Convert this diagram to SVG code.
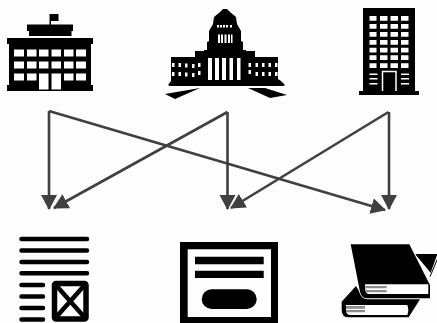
<svg xmlns="http://www.w3.org/2000/svg" width="437" height="323" viewBox="0 0 437 323">
<style>
.k{fill:#000}.w{fill:#fff}.g{fill:#8c8c8c}
.c{fill:none;stroke:#404040;stroke-width:2.600;marker-end:url(#a)}
.l{fill:none;stroke:#000;stroke-width:4.500;stroke-linecap:round}
</style>
<defs><marker id="a" markerUnits="userSpaceOnUse" markerWidth="17" markerHeight="17" refX="14" refY="8" orient="auto"><path d="M0 0L15 8L0 16Z" fill="#404040"/></marker></defs>
<rect width="437" height="323" fill="#fdfdfe"/>
<g id="connectors">
<path class="c" d="M49 111V209"/>
<path class="c" d="M49 111L385 210"/>
<path class="c" d="M227.500 112L54 208"/>
<path class="c" d="M227.500 112V209"/>
<path class="c" d="M388.500 112L231 208"/>
<path class="c" d="M389 112V209"/>
</g>
<g id="school">
<path class="k" d="M49.500 14H58.500V21H51V25H49.500Z"/>
<path class="k" d="M27 24.500H73V31H71.500V36H29V31H27Z"/>
<path class="k" d="M7 38H93V44H91V85H93V91H7V85H9V44H7Z"/>
<path class="w" d="M14 49.500h10v7h-10zM27 49.500h9.500v7h-9.500zM39 49.500h9.500v7h-9.500zM51.500 49.500h9.500v7h-9.500zM64 49.500h9.500v7h-9.500zM76 49.500h10v7h-10zM14 61.500h10v7h-10zM27 61.500h9.500v7h-9.500zM39 61.500h9.500v7h-9.500zM51.500 61.500h9.500v7h-9.500zM64 61.500h9.500v7h-9.500zM76 61.500h10v7h-10zM14 73.500h10v7h-10zM27 73.500h9.500v7h-9.500zM64 73.500h9.500v7h-9.500zM76 73.500h10v7h-10zM39 73.500h9.500v16h-9.500zM51.500 73.500h9.500v16h-9.500z"/>
</g>
<g id="parliament">
<path class="k" d="M223 9H227L230 12L236 17L237 24L241 31V41L243 42V50H246V51H255V57H278V79L281 81L285 85L283 86H170L168 85L171 81V57H195V51H204V50H207V42L209 41V31L213 24L214 17L220 12Z"/>
<path class="k" d="M165 94L200 88L175 99ZM248 88H265L287 95L270 98Z"/>
<path class="w" d="M208 58h4v22h-4zM215 58h4v22h-4zM222 58h4v22h-4zM229.500 58h3.500v22h-3.500zM237 58h3.500v22h-3.500zM218 34.500h2v8.500h-2zM221 34.500h2v8.500h-2zM224.500 34.500h2v8.500h-2zM228 34.500h2v8.500h-2zM231 34.500h1.500v8.500h-1.500zM217 25h2v2.500h-2zM220 25h2v2.500h-2zM223 25h2v2.500h-2zM226 25h2v2.500h-2zM230 25h2v2.500h-2z"/>
<path class="w" d="M172 63h2.500v4h-2.500zM178.500 63h2.500v4h-2.500zM185 63.500h2.500v4h-2.500zM192 64h2.500v4h-2.500zM198 63h2.500v4h-2.500zM172 72h2.500v4h-2.500zM178.500 72h2.500v4h-2.500zM185 72.500h2.500v4h-2.500zM192 73h2.500v4h-2.500zM198 71h2.500v4h-2.500zM248.500 63h2.500v4h-2.500zM255.500 63h2.500v4h-2.500zM262 63h2.500v4h-2.500zM268.500 63h2.500v4h-2.500zM275 63h2.500v4h-2.500zM248.500 70h2.500v4h-2.500zM255.500 72h2.500v4h-2.500zM262 72h2.500v4h-2.500zM268.500 72h2.500v4h-2.500zM275 72h2.500v4h-2.500z"/>
</g>
<g id="office">
<path class="k" d="M363 8H415V91H419V95H359V91H363Z"/>
<path class="w" d="M369.500 16h7v4.700h-7zM380 16h7.500v4.700h-7.500zM390.500 16h7.500v4.700h-7.500zM401 16h7.500v4.700h-7.500zM369.500 24h7v4.700h-7zM380 24h7.500v4.700h-7.500zM390.500 24h7.500v4.700h-7.500zM401 24h7.500v4.700h-7.500zM369.500 32h7v4.700h-7zM380 32h7.500v4.700h-7.500zM390.500 32h7.500v4.700h-7.500zM401 32h7.500v4.700h-7.500zM369.500 40h7v4.700h-7zM380 40h7.500v4.700h-7.500zM390.500 40h7.500v4.700h-7.500zM401 40h7.500v4.700h-7.500zM369.500 47.700h7v4.700h-7zM380 47.700h7.500v4.700h-7.500zM390.500 47.700h7.500v4.700h-7.500zM401 47.700h7.500v4.700h-7.500zM369.500 55.300h7v4.700h-7zM380 55.300h7.500v4.700h-7.500zM390.500 55.300h7.500v4.700h-7.500zM401 55.300h7.500v4.700h-7.500zM369.500 63.300h7v4.700h-7zM380 63.300h7.500v4.700h-7.500zM390.500 63.300h7.500v4.700h-7.500zM401 63.300h7.500v4.700h-7.500zM369.500 73.500h8v1.500h-8zM369.500 78h8v1.500h-8zM369.500 83h8v1.500h-8zM401 73.500h8v1.500h-8zM401 78h8v1.500h-8zM401 83h8v1.500h-8z"/>
<path d="M382.500 91V71.500H396V91" fill="none" stroke="#fff" stroke-width="1.500"/>
</g>
<g id="form">
<path class="l" d="M21.500 239H87M21.500 250.500H87M21.500 262H87M21.500 273.300H87M21.500 285H43M21.500 296.500H43M21.500 308H43M21.500 319.500H43"/>
<rect x="54.500" y="283.500" width="31.500" height="35.500" rx="1.500" fill="#fff" stroke="#000" stroke-width="5.500"/>
<path d="M54.500 283.500L86 319M86 283.500L54.500 319" fill="none" stroke="#000" stroke-width="4.500"/>
</g>
<g id="certificate">
<path class="k" d="M180 242H278V323H180ZM187.700 249.300V317H271V249.300Z" fill-rule="evenodd"/>
<path class="k" d="M195 256.700H263.700V264.300H195ZM195 270.700H263.700V278H195Z"/>
<rect class="k" x="201.700" y="289.300" width="55" height="19.700" rx="9.850"/>
</g>
<g id="books" transform="translate(330 230) scale(.3333)">
<path class="k" d="M255 72H322L302 128Z"/>
<path d="M322 88L300 140" fill="none" stroke="#000" stroke-width="3"/>
<path class="k" d="M78 168L35 215V240Q35 262 57 262H236L272 205H100Z"/>
<path class="w" d="M48 225H232Q238 240 232 255H62Q48 255 48 240Z"/>
<path class="g" d="M48 228H105V236H48ZM48 240H105V247H48Z"/>
<path class="k" d="M62 43H238L300 165V205H112Q95 205 90 185Z" stroke="#fff" stroke-width="5" paint-order="stroke"/>
<path class="w" d="M105 163H295V192H118Q107 192 106 180Z"/>
<path class="g" d="M106 168H170V175H106ZM107 180H170V187H107Z"/>
</g>
</svg>
